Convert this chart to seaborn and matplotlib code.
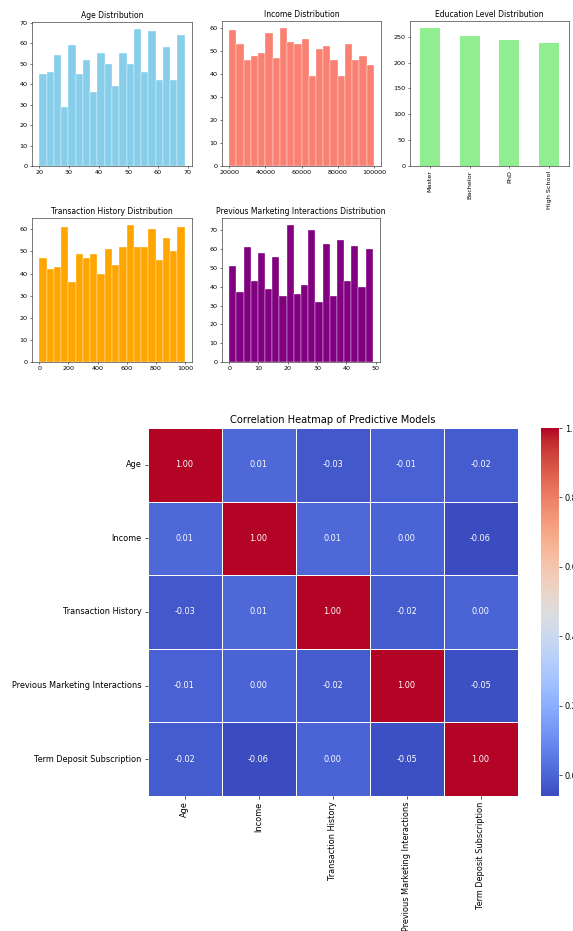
import numpy as np
import pandas as pd
import seaborn as sns
import matplotlib
matplotlib.use("Agg")
from matplotlib import pyplot as plt

# histogram counts (20 bins each)
age_counts = [45, 46, 54, 29, 59, 45, 52, 36, 55, 50, 39, 55, 50, 67, 46, 66, 42, 58, 42, 64]
age_range = (20, 69)
income_counts = [59, 53, 46, 48, 49, 58, 47, 60, 54, 53, 55, 39, 51, 52, 46, 39, 53, 46, 48, 44]
income_range = (20000, 99900)
transaction_counts = [47, 42, 43, 61, 36, 49, 47, 49, 40, 51, 44, 52, 62, 52, 52, 60, 46, 56, 50, 61]
transaction_range = (0, 998)
interaction_counts = [51, 37, 61, 43, 58, 39, 56, 35, 73, 36, 41, 70, 32, 63, 35, 65, 43, 62, 40, 60]
interaction_range = (0, 49)

education_levels = ["Master", "Bachelor", "PhD", "High School"]
education_counts = [267, 251, 244, 238]

corr_labels = ["Age", "Income", "Transaction History",
               "Previous Marketing Interactions", "Term Deposit Subscription"]
corr_values = [
    [1.00, 0.01, -0.03, -0.01, -0.02],
    [0.01, 1.00, 0.01, 0.00, -0.06],
    [-0.03, 0.01, 1.00, -0.02, 0.00],
    [-0.01, 0.00, -0.02, 1.00, -0.05],
    [-0.02, -0.06, 0.00, -0.05, 1.00],
]

W, H = 573, 931
fig = plt.figure(figsize=(W / 100, H / 100), dpi=100)


def rect(l, t, r, b):
    return [l / W, 1 - b / H, (r - l) / W, (b - t) / H]


def style_axes(ax, s):
    for sp in ax.spines.values():
        sp.set_linewidth(0.8 * s)
    ax.tick_params(labelsize=10 * s, length=3.5 * s, width=0.8 * s, pad=3.5 * s)


S_TOP = 0.46
S_HM = 0.59


def hist_panel(box, counts, rng, color, title):
    ax = fig.add_axes(rect(*box))
    edges = np.linspace(rng[0], rng[1], len(counts) + 1)
    df = pd.DataFrame({"center": (edges[:-1] + edges[1:]) / 2, "count": counts})
    sns.histplot(data=df, x="center", weights="count", bins=len(counts), binrange=rng,
                 color=color, alpha=1, edgecolor="white", linewidth=0.25, ax=ax)
    ax.set_xlabel("")
    ax.set_ylabel("")
    ax.set_title(title, fontsize=12 * S_TOP, pad=6 * S_TOP)
    style_axes(ax, S_TOP)
    return ax


hist_panel((32, 22, 192, 166), age_counts, age_range, "skyblue", "Age Distribution")
hist_panel((222, 21, 381, 166), income_counts, income_range, "salmon", "Income Distribution")
hist_panel((32, 218, 192, 362), transaction_counts, transaction_range, "orange",
           "Transaction History Distribution")
hist_panel((222, 218, 380, 362), interaction_counts, interaction_range, "purple",
           "Previous Marketing Interactions Distribution")

ax_edu = fig.add_axes(rect(410, 21, 569, 166))
sns.barplot(x=education_levels, y=education_counts, color="lightgreen", width=0.5,
            saturation=1, ax=ax_edu)
ax_edu.set_xlim(-0.5, 3.5)
ax_edu.set_xlabel("")
ax_edu.set_ylabel("")
ax_edu.set_title("Education Level Distribution", fontsize=12 * S_TOP, pad=6 * S_TOP)
style_axes(ax_edu, S_TOP)
plt.setp(ax_edu.get_xticklabels(), rotation=90)

# correlation heatmap
corr = pd.DataFrame(corr_values, index=corr_labels, columns=corr_labels)
ax_hm = fig.add_axes(rect(147.5, 428, 517.5, 796))
ax_cb = fig.add_axes(rect(541, 428, 559, 796))
sns.heatmap(corr, annot=True, fmt=".2f", cmap="coolwarm", linewidths=0.5,
            annot_kws={"size": 10 * S_HM}, ax=ax_hm, cbar_ax=ax_cb)
ax_hm.set_title("Correlation Heatmap of Predictive Models", fontsize=12 * S_HM, pad=6 * S_HM)
ax_hm.tick_params(labelsize=10 * S_HM, length=3.5 * S_HM, width=0.8 * S_HM, pad=3.5 * S_HM)
plt.setp(ax_hm.get_xticklabels(), rotation=90)
plt.setp(ax_hm.get_yticklabels(), rotation=0)
ax_cb.tick_params(labelsize=10 * S_HM, length=3.5 * S_HM, width=0.8 * S_HM, pad=3.5 * S_HM)

fig.savefig("out.png", dpi=100)
